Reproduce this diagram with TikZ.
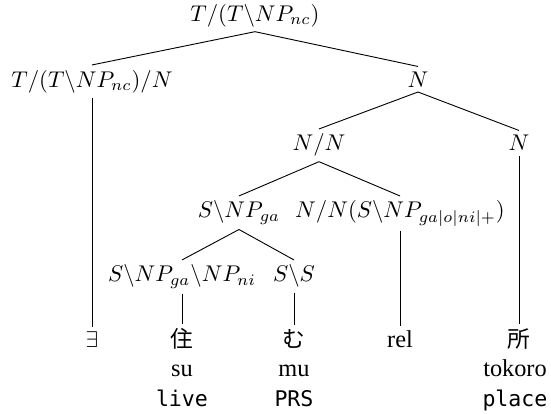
\documentclass[tikz,border=0pt]{standalone}
\usepackage{fontspec}
\setmainfont{Liberation Serif}[Scale=1.07]
\setmonofont{DejaVu Sans Mono}[Scale=0.95]
\newfontfamily\jpfont{Noto Sans CJK JP}
\usetikzlibrary{positioning}

\begin{document}
\begin{tikzpicture}[x=0.44pt, y=-0.44pt,
    cat/.style={inner sep=2pt, anchor=base},
    word/.style={inner sep=2pt, anchor=base},
    rom/.style={inner sep=1pt, anchor=base},
    gloss/.style={inner sep=1pt, anchor=base, font=\ttfamily},
    edge/.style={line width=0.4pt},
  ]
    \useasboundingbox (0,0) rectangle (551,414);

    % categories
    \node[cat] (root) at (255,21) {$T/(T\backslash NP_{nc})$};
    \node[cat] (det)  at (92,87)  {$T/(T\backslash NP_{nc})/N$};
    \node[cat] (noun) at (418,87) {$N$};
    \node[cat] (mod)  at (319,151) {$N/N$};
    \node[cat] (head) at (519,151) {$N$};
    \node[cat] (vp)   at (239,218) {$S\backslash NP_{ga}$};
    \node[cat] (relc) at (400,218) {$N/N(S\backslash NP_{ga|o|ni|+})$};
    \node[cat] (verb) at (182,282) {$S\backslash NP_{ga}\backslash NP_{ni}$};
    \node[cat] (tns)  at (294,282) {$S\backslash S$};

    % words
    \node[word] (w1) at (92,348)  {$\exists$};
    \node[word] (w2) at (182,348) {\jpfont 住};
    \node[word] (w3) at (294,348) {\jpfont む};
    \node[word] (w4) at (400,348) {rel};
    \node[word] (w5) at (519,348) {\jpfont 所};

    \node[rom] (r2) at (182,377) {su};
    \node[rom] (r3) at (294,377) {mu};
    \node[rom] (r5) at (515,377) {tokoro};

    \node[gloss] (g2) at (182,407) {live};
    \node[gloss] (g3) at (294,407) {PRS};
    \node[gloss] (g5) at (515,407) {place};

    \draw[edge] (root.south) -- (det.north);
    \draw[edge] (root.south) -- (noun.north);
    \draw[edge] (noun.south) -- (mod.north);
    \draw[edge] (noun.south) -- (head.north);
    \draw[edge] (mod.south) -- (vp.north);
    \draw[edge] (mod.south) -- (relc.north);
    \draw[edge] (vp.south) -- (verb.north);
    \draw[edge] (vp.south) -- (tns.north);

    \draw[edge] (det.south)  -- (w1.north);
    \draw[edge] (verb.south) -- (w2.north);
    \draw[edge] (tns.south)  -- (w3.north);
    \draw[edge] (relc.south) -- (w4.north);
    \draw[edge] (head.south) -- (w5.north);
  \end{tikzpicture}
\end{document}
